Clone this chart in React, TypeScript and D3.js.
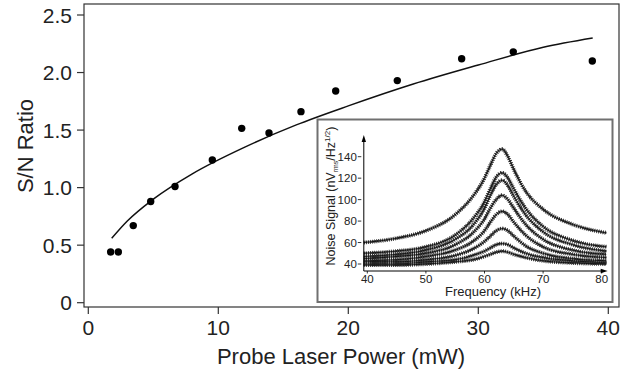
import * as d3 from "d3";

// main plot: S/N ratio vs probe power
const powerMw = [1.72, 2.31, 3.46, 4.8, 6.67, 9.54, 11.8, 13.9, 16.36, 19.03, 23.77, 28.72, 32.69, 38.77];
const snRatio = [0.44, 0.44, 0.67, 0.88, 1.01, 1.24, 1.515, 1.475, 1.66, 1.84, 1.93, 2.12, 2.18, 2.1];

// fitted curve
const fitPower = [1.8, 3, 5, 8, 12, 16, 20, 25, 30, 35, 38.8];
const fitRatio = [0.56, 0.71, 0.9, 1.12, 1.35, 1.545, 1.71, 1.9, 2.065, 2.22, 2.3];

const xTicks = [0, 10, 20, 30, 40];
const yTicks = [0, 0.5, 1.0, 1.5, 2.0, 2.5];

// inset: noise spectra, one row per probe power
const freqKhz = [39.4, 45, 50, 55, 58, 60, 61, 62, 63, 64, 65, 67, 70, 75, 80.8];
const noiseTraces = [
  [60, 64, 71, 86, 103, 120, 132, 143, 147, 140, 128, 108, 91, 77, 69],
  [50, 52, 56, 67, 82, 98, 110, 121, 125, 120, 110, 92, 75, 62, 56],
  [47, 49, 53, 63, 76, 92, 104, 114, 118, 113, 103, 86, 70, 58, 52],
  [45, 47, 50, 58, 69, 82, 92, 100, 104, 100, 92, 77, 63, 53, 49],
  [43, 44, 47, 53, 61, 71, 79, 86, 89, 86, 79, 67, 56, 49, 46],
  [42, 42, 44, 48, 54, 61, 66, 71, 73, 71, 66, 57, 50, 45, 43],
  [40, 40, 42, 44, 48, 52, 55, 58, 59, 58, 55, 50, 46, 43, 41],
  [39, 39, 40, 42, 44, 47, 49, 51, 52, 51, 49, 46, 43, 41, 40],
];
const insetXTicks = [40, 50, 60, 70, 80];
const insetYTicks = [40, 60, 80, 100, 120, 140];

const W = 638;
const H = 372;
const font = "'Liberation Sans', Arial, Helvetica, sans-serif";
const ink = "#222";

export default function App() {
  const x = d3.scaleLinear().domain([0, 40]).range([88.3, 608.3]);
  const y = d3.scaleLinear().domain([0, 2.5]).range([302.7, 15]);
  const frame = { l: 84, t: 4, r: 619, b: 307 };

  const fitLine = d3
    .line<number>()
    .x((d, i) => x(fitPower[i]))
    .y((d) => y(d))
    .curve(d3.curveMonotoneX);

  // inset geometry
  const box = { l: 317.5, t: 119.5, r: 612.5, b: 302 };
  const fx = d3.scaleLinear().domain([40, 80]).range([367.3, 601.7]);
  const ny = d3.scaleLinear().domain([40, 140]).range([264, 156.7]);
  const axX = 363.8;
  const axY = 271;
  const axTop = 135;
  const axRight = 607.7;

  const traceLine = d3
    .line<number>()
    .x((d, i) => fx(freqKhz[i]))
    .y((d) => ny(d))
    .curve(d3.curveMonotoneX);

  return (
    <svg
      width={W}
      height={H}
      viewBox={`0 0 ${W} ${H}`}
      style={{ position: "absolute", left: 0, top: 0, background: "#fff" }}
      fontFamily={font}
    >
      <rect x={0} y={0} width={W} height={H} fill="#fff" />
      <rect
        x={frame.l}
        y={frame.t}
        width={frame.r - frame.l}
        height={frame.b - frame.t}
        fill="none"
        stroke="#333"
        strokeWidth={1.2}
      />

      {/* y axis */}
      {yTicks.map((t) => (
        <g key={"y" + t}>
          <line x1={77} x2={frame.l} y1={y(t)} y2={y(t)} stroke="#333" strokeWidth={1.2} />
          <text x={72} y={y(t)} dy="0.36em" textAnchor="end" fontSize={21} fill={ink}>
            {t === 0 ? "0" : t.toFixed(1)}
          </text>
        </g>
      ))}
      <text
        transform={`translate(33,146) rotate(-90)`}
        textAnchor="middle"
        fontSize={22}
        fill={ink}
      >
        S/N Ratio
      </text>

      {/* x axis */}
      {xTicks.map((t) => (
        <g key={"x" + t}>
          <line x1={x(t)} x2={x(t)} y1={frame.b} y2={frame.b + 7} stroke="#333" strokeWidth={1.2} />
          <text x={x(t)} y={335} textAnchor="middle" fontSize={21} fill={ink}>
            {t}
          </text>
        </g>
      ))}
      <text x={341} y={364} textAnchor="middle" fontSize={22} fill={ink}>
        Probe Laser Power (mW)
      </text>

      <path d={fitLine(fitRatio) || ""} fill="none" stroke="#111" strokeWidth={1.5} />
      {snRatio.map((v, i) => (
        <circle key={i} cx={x(powerMw[i])} cy={y(v)} r={3.7} fill="#000" />
      ))}

      {/* inset */}
      <rect
        x={box.l}
        y={box.t}
        width={box.r - box.l}
        height={box.b - box.t}
        fill="#fff"
        stroke="#707070"
        strokeWidth={2}
      />
      {noiseTraces.map((tr, k) => (
        <g key={"tr" + k}>
          <path
            d={traceLine(tr) || ""}
            fill="none"
            stroke="#222"
            strokeWidth={4}
            strokeDasharray="0.8 1.3"
          />
          <path
            d={traceLine(tr) || ""}
            fill="none"
            stroke="#333"
            strokeWidth={2.4}
            strokeDasharray="1.6 0.7"
            strokeDashoffset={0.5}
          />
          <path d={traceLine(tr) || ""} fill="none" stroke="#000" strokeWidth={0.7} />
        </g>
      ))}
      <line x1={axX} x2={axX} y1={axY} y2={axTop + 4} stroke="#000" strokeWidth={1} />
      <path d={`M${axX},${axTop} l-2.2,7 l4.4,0 z`} fill="#000" />
      <line x1={axX} x2={axRight - 4} y1={axY} y2={axY} stroke="#000" strokeWidth={1} />
      <path d={`M${axRight},${axY} l-7,-2.2 l0,4.4 z`} fill="#000" />
      {insetYTicks.map((t) => (
        <g key={"iy" + t}>
          <line x1={axX - 6} x2={axX - 2.5} y1={ny(t)} y2={ny(t)} stroke="#000" strokeWidth={0.8} />
          <text x={axX - 7} y={ny(t)} dy="0.36em" textAnchor="end" fontSize={11.5} fill={ink}>
            {t}
          </text>
        </g>
      ))}
      {insetXTicks.map((t) => (
        <g key={"ix" + t}>
          <line x1={fx(t)} x2={fx(t)} y1={axY} y2={axY + 2.5} stroke="#000" strokeWidth={0.8} />
          <text x={fx(t)} y={283} textAnchor="middle" fontSize={11.5} fill={ink}>
            {t}
          </text>
        </g>
      ))}
      <text x={493} y={296} textAnchor="middle" fontSize={13} fill={ink}>
        Frequency (kHz)
      </text>
      <text transform={`translate(335,196) rotate(-90)`} textAnchor="middle" fontSize={12.5} fill={ink}>
        Noise Signal (nV
        <tspan fontSize={7} dy={3}>rms</tspan>
        <tspan dy={-3}>/Hz</tspan>
        <tspan fontSize={8} dy={-5}>1/2</tspan>
        <tspan dy={5}>)</tspan>
      </text>
    </svg>
  );
}
